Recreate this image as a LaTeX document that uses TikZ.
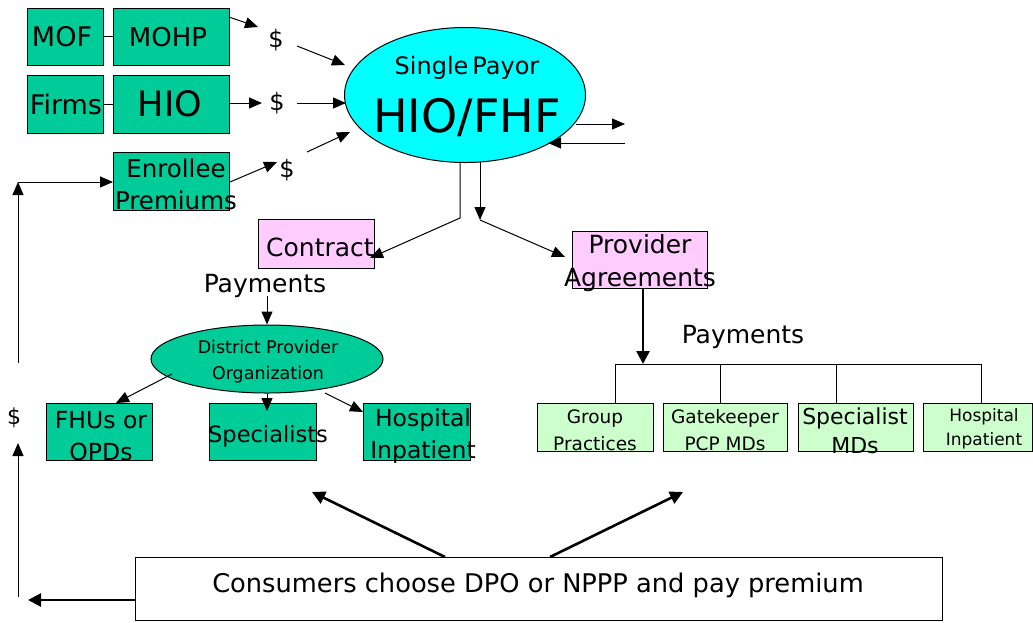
\documentclass[tikz,border=0pt]{standalone}
\usepackage{fontspec}
\setmainfont{DejaVu Sans}
\usetikzlibrary{arrows.meta,shapes.geometric,calc}
\definecolor{cteal}{HTML}{00CC99}
\definecolor{ccyan}{HTML}{00FFFF}
\definecolor{cpink}{HTML}{FFCCFF}
\definecolor{cmint}{HTML}{CCFFCC}
\newcommand\fsz[2]{\fontsize{#1}{#2}\selectfont}
\begin{document}
\begin{tikzpicture}[x=1pt,y=-1pt,
 box/.style={draw=black,line width=1pt,inner sep=0pt,outer sep=0pt,anchor=north west},
 tbox/.style={box,fill=cteal},
 pbox/.style={box,fill=cpink},
 gbox/.style={box,fill=cmint},
 wbox/.style={box,fill=white},
 lbl/.style={inner sep=0pt,outer sep=0pt,align=center},
 ln/.style={line width=1pt},
 arr/.style={line width=1pt,-{Triangle[length=13pt,width=11pt]}},
 tarr/.style={line width=2.6pt,-{Triangle[length=13pt,width=13pt]}}]
\useasboundingbox[fill=white] (0,0) rectangle (1033,622);

% ---------- top left boxes
\node[tbox,minimum width=76pt,minimum height=57pt] (mof) at (27,8) {};
\node[tbox,minimum width=116pt,minimum height=57pt] (mohp) at (113,8) {};
\node[tbox,minimum width=76pt,minimum height=58pt] (firms) at (27,75) {};
\node[tbox,minimum width=116pt,minimum height=58pt] (hio) at (113,75) {};
\node[tbox,minimum width=116pt,minimum height=58pt] (enr) at (113,152) {};
\draw[ln] (mof) -- (mohp);
\draw[ln] (firms) -- (hio);
\node[lbl,font=\fsz{27}{30}] (tmof) at (62,37) {MOF};
\node[lbl,font=\fsz{26}{30}] (tmohp) at (168,37) {MOHP};
\node[lbl,font=\fsz{27}{30}] (tfirms) at (66,104) {Firms};
\node[lbl,font=\fsz{35}{38}] (thio) at (170,104) {HIO};
\node[lbl,font=\fsz{24.5}{32}] (tenr) at (176,184) {Enrollee\\Premiums};

% ---------- dollar signs
\node[lbl,font=\fsz{24}{26}] (d1) at (276,40) {\$};
\node[lbl,font=\fsz{24}{26}] (d2) at (277,103) {\$};
\node[lbl,font=\fsz{24}{26}] (d3) at (287,170) {\$};

% ---------- single payor
\node[ellipse,draw=black,line width=1pt,fill=ccyan,minimum width=241pt,minimum height=135pt,inner sep=0pt] (hf) at (465,95) {};
\node[lbl,font=\fsz{24}{26}] (tsp) at (467,68) {Single\hspace{4pt}Payor};
\node[lbl,font=\fsz{46}{48}] (thf) at (467,118) {HIO/FHF};

\coordinate (a1s) at (229,17);  \coordinate (a1e) at (258,27);
\coordinate (a2s) at (297,46);  \coordinate (a2e) at (345,65);
\coordinate (a3e) at (262,103);
\coordinate (a4s) at (297,103); \coordinate (a4e) at (346,103);
\coordinate (a5s) at (230,182); \coordinate (a5e) at (277,162);
\coordinate (a6s) at (307,152); \coordinate (a6e) at (350,132);
\draw[arr] (a1s) -- (a1e);
\draw[arr] (a2s) -- (a2e);
\draw[arr] (hio.east |- a3e) -- (a3e);
\draw[arr] (a4s) -- (a4e);
\draw[arr] (a5s) -- (a5e);
\draw[arr] (a6s) -- (a6e);

\coordinate (r1s) at (576,124); \coordinate (r1e) at (625,124);
\coordinate (r2s) at (625,143); \coordinate (r2e) at (548,143);
\draw[arr] (r1s) -- (r1e);
\draw[arr] (r2s) -- (r2e);

% ---------- contract / provider agreements
\node[pbox,minimum width=116pt,minimum height=49pt] (con) at (258,219) {};
\node[lbl,font=\fsz{25}{28}] (tcon) at (320,247) {Contract};
\node[pbox,minimum width=135pt,minimum height=57pt] (pa) at (572,231) {};
\node[lbl,font=\fsz{25}{33}] (tpa) at (640,263) {Provider\\Agreements};

\coordinate (b1) at (460,218);
\coordinate (b1e) at (370,258);
\coordinate (b2) at (480,220);
\coordinate (b2e) at (565,257);
\draw[arr] (hf.south -| b1) -- (b1) -- (b1e);
\draw[arr] (hf.south -| b2) ++(0,-1) -- (b2);
\draw[arr] (b2) -- (b2e);

\node[lbl,font=\fsz{25}{28}] (pay1) at (265,286) {Payments};
\node[lbl,font=\fsz{25}{28}] (pay2) at (743,337) {Payments};

% ---------- DPO
\node[ellipse,draw=black,line width=1pt,fill=cteal,minimum width=232pt,minimum height=68pt,inner sep=0pt] (dpo) at (267,359) {};
\node[lbl,font=\fsz{17.5}{26}] (tdpo) at (268,362) {District Provider\\Organization};
\coordinate (p1s) at (267,296);
\draw[arr] (p1s) -- (dpo.north);

\node[tbox,minimum width=106pt,minimum height=57pt] (fhu) at (46,403) {};
\node[tbox,minimum width=107pt,minimum height=57pt] (spe) at (209,403) {};
\node[tbox,minimum width=107pt,minimum height=57pt] (hos) at (363,403) {};
\node[lbl,font=\fsz{23.5}{32}] (tfhu) at (101,436) {FHUs or\\OPDs};
\node[lbl,font=\fsz{22.5}{26}] (tspe) at (268,436) {Specialists};
\node[lbl,font=\fsz{23.5}{32}] (thos) at (423,436) {Hospital\\Inpatient};

\coordinate (e1s) at (172,374); \coordinate (e1e) at (116,403);
\coordinate (e3s) at (325,393); \coordinate (e3e) at (363,412);
\draw[arr] (e1s) -- (e1e);
\draw[arr] (dpo.south) -- (267,411);
\draw[arr] (e3s) -- (e3e);

% ---------- provider tree
\node[gbox,minimum width=116pt,minimum height=48pt] (gp) at (537,403) {};
\node[gbox,minimum width=124pt,minimum height=48pt] (gk) at (663,403) {};
\node[gbox,minimum width=115pt,minimum height=48pt] (sm) at (798,403) {};
\node[gbox,minimum width=109.5pt,minimum height=48pt] (hi) at (923,403) {};
\node[lbl,font=\fsz{18.5}{27}] (tgp) at (595,430) {Group\\Practices};
\node[lbl,font=\fsz{18.5}{27}] (tgk) at (725,430) {Gatekeeper\\PCP MDs};
\node[lbl,font=\fsz{22}{29}] (tsm) at (855,431) {Specialist\\MDs};
\node[lbl,font=\fsz{17}{24}] (thi) at (984,429) {Hospital\\Inpatient};

\coordinate (t0) at (643,364);
\draw[tarr] (pa.south -| t0) -- (t0);
\draw[ln] (gp.north -| 615,0) -- (615,364) -- (981,364) -- (hi.north -| 981,0);
\draw[ln] (720,364) -- (gk.north -| 720,0);
\draw[ln] (836,364) -- (sm.north -| 836,0);

% ---------- consumers
\node[wbox,minimum width=807pt,minimum height=63pt] (cons) at (135,557) {};
\node[lbl,font=\fsz{25.7}{28}] (tcons) at (538,585) {Consumers choose DPO or NPPP and pay premium};
\coordinate (k1s) at (445,557); \coordinate (k1e) at (312,492);
\coordinate (k2s) at (550,557); \coordinate (k2e) at (683,492);
\draw[tarr] (k1s) -- (k1e);
\draw[tarr] (k2s) -- (k2e);
\coordinate (l0) at (28,600);
\draw[tarr] (cons.west |- l0) -- (l0);

% ---------- left loop
\node[lbl,font=\fsz{22}{24}] (d4) at (14,418) {\$};
\coordinate (v1) at (18,363); \coordinate (v1e) at (18,182);
\coordinate (v2) at (18,597); \coordinate (v2e) at (18,443);
\draw[arr] (v1) -- (v1e);
\draw[arr] (v1e) -- (enr.west |- v1e);
\draw[arr] (v2) -- (v2e);
\end{tikzpicture}
\end{document}
